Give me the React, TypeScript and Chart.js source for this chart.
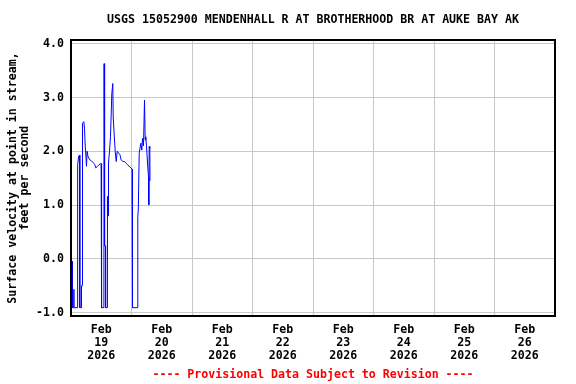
import React, { useEffect, useRef } from "react";
import { Chart, registerables } from "chart.js";

Chart.register(...registerables);

const TITLE = "USGS 15052900 MENDENHALL R AT BROTHERHOOD BR AT AUKE BAY AK";
const NOTE = "---- Provisional Data Subject to Revision ----";
const Y_TITLE = ["Surface velocity at point in stream,", "feet per second"];
const MONTH = "Feb";
const YEAR = "2026";
const DAYS = ["19", "20", "21", "22", "23", "24", "25", "26"];

// hours since Feb 19 2026 00:00
const hours = [
  0.52, 0.6, 1.07, 1.11, 1.19, 2.42, 2.46, 2.7, 2.74, 3.05, 3.45, 3.49, 4.13, 4.17, 4.48, 4.56,
  5.08, 5.36, 5.59, 6.15, 6.39, 6.78, 7.46, 8.13, 8.77, 9.44, 9.84, 10.51, 10.91, 11.7, 11.94,
  11.98, 12.18, 12.22, 13.05, 13.13, 13.33, 13.69, 13.73, 14.32, 14.36, 14.56, 14.68, 14.88,
  15.27, 15.67, 16.19, 16.58, 16.74, 17.26, 17.53, 17.93, 18.33, 18.84, 19.36, 19.91, 20.55,
  21.22, 21.74, 22.41, 23.09, 23.72, 24.2, 24.36, 24.44, 26.46, 26.5, 26.7, 27.05, 27.69,
  28.09, 28.36, 28.76, 29.16, 29.43, 29.67, 29.95, 30.35, 30.74, 30.86, 31.02, 31.26, 31.34,
];
// surface velocity, ft/s
const velocity = [
  -0.05, -0.91, -0.91, -0.57, -0.91, -0.91, 1.13, 1.13, 1.75, 1.91, 1.93, -0.91, -0.91, -0.5,
  -0.5, 2.52, 2.55, 2.43, 2.15, 1.72, 2.0, 1.9, 1.84, 1.82, 1.79, 1.75, 1.69, 1.72, 1.74, 1.77,
  1.77, 0.24, 0.24, -0.91, -0.91, 3.63, 0.24, 0.24, -0.91, -0.91, 0.79, 1.16, 0.8, 1.78, 2.0,
  2.27, 3.07, 3.26, 2.64, 2.21, 2.0, 1.81, 2.0, 1.97, 1.94, 1.84, 1.81, 1.81, 1.78, 1.75, 1.72,
  1.69, 1.67, 0.85, -0.91, -0.91, 0.79, 0.91, 1.96, 2.15, 2.02, 2.24, 2.1, 2.95, 2.21, 2.27,
  2.1, 1.78, 1.53, 1.0, 2.09, 2.05, 1.45,
];

const FONT = "DejaVu Sans Mono";

export default function App() {
  const ref = useRef<HTMLCanvasElement | null>(null);

  useEffect(() => {
    if (!ref.current) return;
    const textPlugin = {
      id: "usgsText",
      afterDraw(chart: any) {
        const { ctx, chartArea } = chart;
        const cx = (chartArea.left + chartArea.right) / 2;
        ctx.save();
        ctx.lineWidth = 2;
        ctx.strokeStyle = "#000";
        ctx.strokeRect(chartArea.left, chartArea.top, chartArea.right - chartArea.left, chartArea.bottom - chartArea.top);
        ctx.font = `bold 11.6px "${FONT}"`;
        ctx.textAlign = "center";
        ctx.textBaseline = "middle";
        ctx.fillStyle = "#000";
        ctx.fillText(TITLE, cx, 20);
        ctx.fillStyle = "#ff0000";
        ctx.fillText(NOTE, cx, 375);
        ctx.restore();
      },
    };

    const chart = new Chart(ref.current, {
      type: "line",
      data: {
        datasets: [
          {
            data: hours.map((h, i) => ({ x: h, y: velocity[i] })),
            borderColor: "#0000ff",
            borderWidth: 1,
            pointRadius: 0,
            tension: 0,
            fill: false,
          },
        ],
      },
      options: {
        animation: false,
        responsive: false,
        devicePixelRatio: 1,
        layout: { padding: { top: 40, right: 21, left: 0, bottom: 0 } },
        plugins: { legend: { display: false }, tooltip: { enabled: false }, title: { display: false } },
        scales: {
          x: {
            type: "linear",
            min: 0,
            max: 192,
            afterFit: (s: any) => {
              s.height = 68;
            },
            border: { display: false },
            grid: {
              drawTicks: false,
              lineWidth: 1,
              color: (c: any) => (c.tick && c.tick.value % 24 === 0 ? "#c8c8c8" : "rgba(0,0,0,0)"),
            },
            ticks: {
              stepSize: 12,
              autoSkip: false,
              maxRotation: 0,
              padding: 7.5,
              color: "#000",
              font: { family: FONT, size: 11.6, weight: "bold", lineHeight: "13px" },
              callback: (v: any) => {
                const n = Number(v);
                if (n % 24 !== 12) return "";
                return [MONTH, DAYS[Math.floor(n / 24)], YEAR];
              },
            },
          },
          y: {
            min: -1.065,
            max: 4.07,
            afterFit: (s: any) => {
              s.width = 71;
            },
            border: { display: false },
            grid: { drawTicks: false, color: "#c8c8c8", lineWidth: 1 },
            ticks: {
              stepSize: 1,
              includeBounds: false,
              padding: 7,
              color: "#000",
              font: { family: FONT, size: 11.6, weight: "bold" },
              callback: (v: any) => Number(v).toFixed(1),
            },
            title: {
              display: true,
              text: Y_TITLE,
              color: "#000",
              font: { family: FONT, size: 11.6, weight: "bold", lineHeight: "12px" },
              padding: { top: 6.5, bottom: 0 },
            },
          },
        },
      },
      plugins: [textPlugin],
    });
    return () => chart.destroy();
  }, []);

  return (
    <div style={{ position: "fixed", left: 0, top: 0, width: 576, height: 384, background: "#fff" }}>
      <canvas ref={ref} width={576} height={384} style={{ width: 576, height: 384 }} />
    </div>
  );
}
